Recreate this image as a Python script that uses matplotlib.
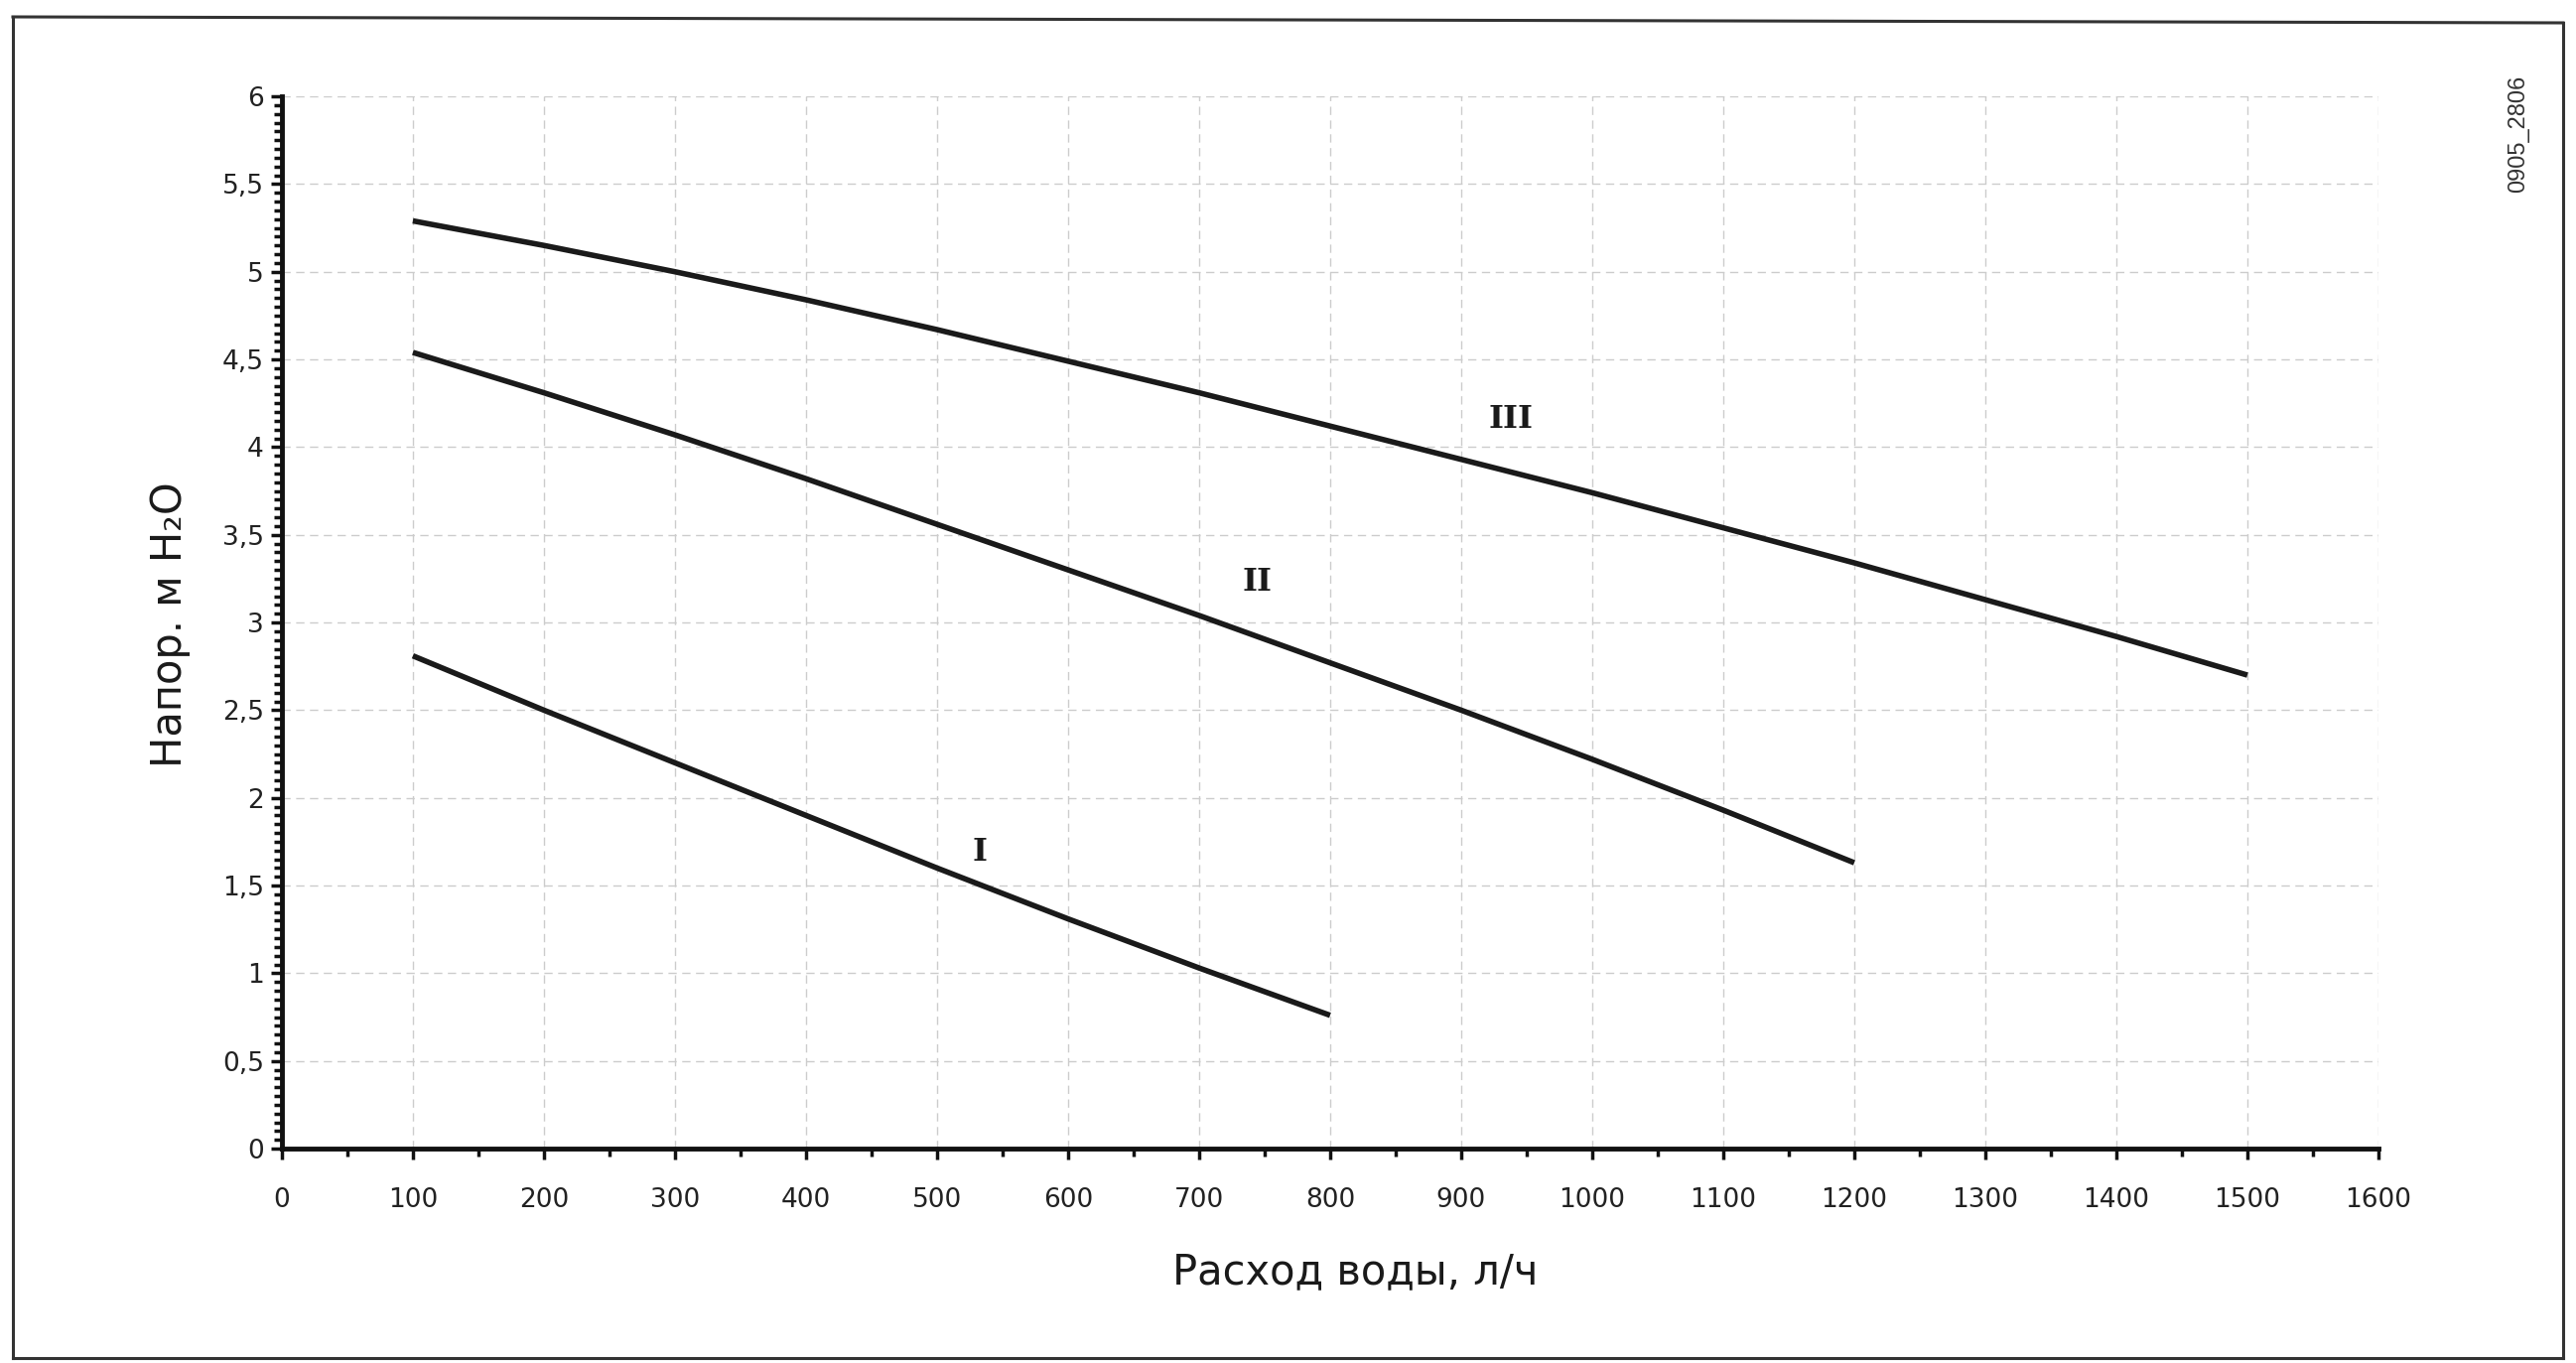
import matplotlib
matplotlib.use('Agg')
import matplotlib.pyplot as plt
from matplotlib.ticker import MultipleLocator, FuncFormatter
from matplotlib.lines import Line2D

# расход воды, л/ч  и  напор, м H2O
flow_I = [100, 200, 300, 400, 500, 600, 700, 800]
head_I = [2.81, 2.50, 2.20, 1.90, 1.60, 1.31, 1.03, 0.76]

flow_II = [100, 200, 300, 400, 500, 600, 700, 800, 900, 1000, 1100, 1200]
head_II = [4.54, 4.31, 4.07, 3.82, 3.56, 3.30, 3.04, 2.77, 2.50, 2.22, 1.93, 1.63]

flow_III = [100, 200, 300, 400, 500, 600, 700, 800, 900, 1000, 1100, 1200, 1300, 1400, 1500]
head_III = [5.29, 5.15, 5.00, 4.84, 4.67, 4.49, 4.31, 4.12, 3.93, 3.74, 3.54, 3.34, 3.13, 2.92, 2.70]

curve_names = ['I', 'II', 'III']
name_pos = [(533, 1.69), (744, 3.23), (938, 4.16)]

x_label = 'Расход воды, л/ч'
y_label = 'Напор. м H₂O'
code_label = '0905_2806'

plt.rcParams['font.family'] = ['DejaVu Sans']

fig = plt.figure(figsize=(25.95, 13.73), dpi=100)
ax = fig.add_axes([0.1094, 0.1573, 0.8139, 0.772])

# рамка вокруг рисунка (слегка перекошена как на скане)
W, H = 2595.0, 1373.0
frame = [((13, 17), (2582, 23)), ((13, 17), (13, 1368)),
         ((2582, 23), (2582, 1368)), ((13, 1368), (2582, 1368))]
for (x0, y0), (x1, y1) in frame:
    fig.add_artist(Line2D([x0 / W, x1 / W], [1 - y0 / H, 1 - y1 / H],
                          transform=fig.transFigure, color='#333333', lw=2.2))

for fx, hd in [(flow_I, head_I), (flow_II, head_II), (flow_III, head_III)]:
    ax.plot(fx, hd, color='#1a1a1a', lw=4.0, solid_capstyle='butt',
            solid_joinstyle='round', zorder=3)

for name, (px, py) in zip(curve_names, name_pos):
    ax.text(px, py, name, ha='center', va='center', fontsize=23,
            fontfamily='DejaVu Serif', fontweight='bold', color='#1a1a1a')

ax.set_xlim(0, 1600)
ax.set_ylim(0, 6)
ax.xaxis.set_major_locator(MultipleLocator(100))
ax.xaxis.set_minor_locator(MultipleLocator(50))
ax.yaxis.set_major_locator(MultipleLocator(0.5))
ax.yaxis.set_minor_locator(MultipleLocator(0.05))
ax.yaxis.set_major_formatter(FuncFormatter(lambda v, p: f'{v:g}'.replace('.', ',')))

ax.grid(True, which='major', color='#cccccc', lw=1.0, ls=(0, (6, 4)), zorder=0)

for s in ['top', 'right']:
    ax.spines[s].set_visible(False)
for s in ['left', 'bottom']:
    ax.spines[s].set_linewidth(3.5)
    ax.spines[s].set_color('#111111')

ax.tick_params(which='both', direction='out', colors='#111111', labelcolor='#222222',
               labelsize=19, width=2.5)
ax.tick_params(which='major', length=8)
ax.tick_params(which='minor', length=6)
ax.tick_params(axis='x', which='major', pad=20)
ax.tick_params(axis='y', which='major', pad=5)

fig.text(1365 / W, 1 - 1293 / H, x_label, ha='center', va='baseline',
         fontsize=30, color='#1a1a1a')
fig.text(183 / W, 1 - 629 / H, y_label, ha='center', va='baseline',
         rotation=90, rotation_mode='anchor', fontsize=30, color='#1a1a1a')
fig.text(2537 / W, 1 - 135 / H, code_label, ha='center', va='center',
         rotation=90, fontsize=17, fontfamily=['Liberation Sans', 'DejaVu Sans'],
         color='#333333')

fig.savefig('out.png', dpi=100, facecolor='white')
